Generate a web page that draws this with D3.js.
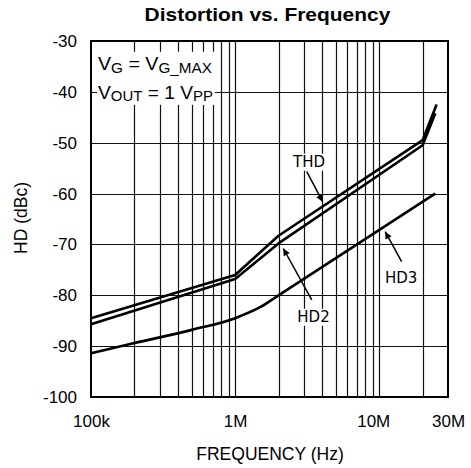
<!DOCTYPE html>
<html><head><meta charset="utf-8">
<script src="https://cdn.jsdelivr.net/npm/d3@7"></script>
<style>body{margin:0;background:#fff}svg{display:block}</style>
</head><body><svg id="c" width="471" height="468"></svg>
<script>
// ---- data ----
const freqTicks = [1e5, 1e6, 1e7, 3e7];
const freqTickLabels = ["100k", "1M", "10M", "30M"];
const dbTicks = [-30, -40, -50, -60, -70, -80, -90, -100];
const thdFreq = [1e5, 1e6, 2e6, 2e7, 2.5e7];
const thdDb = [-84.5, -76.0, -68.3, -49.5, -42.5];
const hd2Freq = [1e5, 1e6, 2e6, 2e7, 2.45e7];
const hd2Db = [-85.7, -76.8, -69.8, -50.5, -44.2];
const hd3Freq = [1e5, 2e5, 5e5, 1e6, 1.5e6, 2e6, 2.45e7];
const hd3Db = [-91.4, -89.4, -86.8, -84.5, -82.3, -80.0, -60.0];
const seriesNames = ["THD", "HD2", "HD3"];
const labelFreq = [3.26e6, 3.5e6, 1.42e7];
const labelDb = [-54.7, -85.2, -77.5];
const arrowFromFreq = [3.14e6, 3.4e6, 1.43e7];
const arrowFromDb = [-55.7, -80.9, -73.4];
const arrowToFreq = [4.05e6, 2.16e6, 1.10e7];
const arrowToDb = [-61.6, -70.8, -67.5];
const titleText = "Distortion vs. Frequency";
const xTitle = "FREQUENCY (Hz)";
const yTitle = "HD (dBc)";

// ---- chart ----
const svg = d3.select("#c");
const L = 91, R = 448, T = 41, B = 397;
const x = d3.scaleLog().domain([1e5, 3e7]).range([L, R]);
const y = d3.scaleLinear().domain([-100, -30]).range([B, T]);
const SANS = "'Liberation Sans', Arial, sans-serif";
const DJ = "'DejaVu Sans', sans-serif";
const px = v => Math.round(v) + 0.5;

// grid
const gridF = [];
[1e5, 1e6, 1e7].forEach(d => { for (let m = 1; m <= 9; m++) { const f = m * d; if (f > 1e5 && f < 3e7) gridF.push(f); } });
const grid = svg.append("g").attr("stroke", "#111").attr("stroke-width", 1.2);
grid.selectAll("line.v").data(gridF).join("line").attr("class", "v")
  .attr("x1", d => px(x(d))).attr("x2", d => px(x(d))).attr("y1", T).attr("y2", B);
grid.selectAll("line.h").data(dbTicks.slice(1, -1)).join("line").attr("class", "h")
  .attr("x1", L).attr("x2", R).attr("y1", d => px(y(d))).attr("y2", d => px(y(d)));

// curves
const line = d3.line().x(d => x(d[0])).y(d => y(d[1]));
const lineSmooth = d3.line().x(d => x(d[0])).y(d => y(d[1])).curve(d3.curveMonotoneX);
const series = [
  d3.zip(thdFreq, thdDb),
  d3.zip(hd2Freq, hd2Db),
  d3.zip(hd3Freq, hd3Db)
];
svg.append("g").selectAll("path").data(series).join("path")
  .attr("d", (d, i) => i === 2 ? lineSmooth(d) : line(d)).attr("fill", "none").attr("stroke", "#000")
  .attr("stroke-width", 2.6).attr("stroke-linejoin", "round").attr("stroke-linecap", "butt");

// legend text box (top-left)
const leg = svg.append("g");
const legBg = leg.append("rect").attr("fill", "#fff");
function subText(g, parts) {
  const t = g.append("text").attr("font-family", SANS).attr("font-size", 18).attr("fill", "#000");
  parts.forEach(p => {
    const s = t.append("tspan").text(p[0]);
    if (p[1]) s.attr("font-size", 14).attr("dy", 2.5); else s.attr("dy", p[2] || 0);
  });
  return t;
}
const l1 = subText(leg, [["V"], ["G", 1], [" = V", 0, -2.5], ["G_MAX", 1]]);
const l2 = subText(leg, [["V"], ["OUT", 1], [" = 1 V", 0, -2.5], ["PP", 1]]);
function fitText(t, x0, xEnd, base) {
  const w = t.node().getComputedTextLength();
  t.attr("x", 0).attr("y", 0).attr("transform", `translate(${x0},${base}) scale(${(xEnd - x0) / w},1)`);
}
fitText(l1, 98, 212, 70);
fitText(l2, 98, 213, 98.5);
{
  const b1 = l1.node().getBoundingClientRect(), b2 = l2.node().getBoundingClientRect();
  const x0 = Math.min(b1.left, b2.left) - 1, x1 = Math.max(b1.right, b2.right) + 2;
  const y0 = Math.min(b1.top, b2.top) - 2, y1 = Math.max(b1.bottom, b2.bottom) + 1;
  legBg.attr("x", x0).attr("y", y0).attr("width", x1 - x0).attr("height", y1 - y0);
}

// annotations
svg.append("defs").append("marker").attr("id", "ah").attr("viewBox", "0 0 10 10")
  .attr("refX", 10).attr("refY", 5).attr("markerWidth", 9).attr("markerHeight", 7)
  .attr("markerUnits", "userSpaceOnUse").attr("orient", "auto")
  .append("path").attr("d", "M0,0L10,5L0,10Z").attr("fill", "#000");
const ann = svg.append("g");
seriesNames.forEach((n, i) => {
  const g = ann.append("g");
  const bg = g.append("rect").attr("fill", "#fff");
  const t = g.append("text").attr("x", x(labelFreq[i])).attr("y", y(labelDb[i]))
    .attr("text-anchor", "middle").attr("font-family", DJ).attr("font-size", 15).attr("fill", "#000").text(n);
  const bb = t.node().getBBox();
  bg.attr("x", bb.x - 2).attr("y", bb.y + 1).attr("width", bb.width + 4).attr("height", bb.height - 1);
  g.append("line").attr("x1", x(arrowFromFreq[i])).attr("y1", y(arrowFromDb[i]))
    .attr("x2", x(arrowToFreq[i])).attr("y2", y(arrowToDb[i]))
    .attr("stroke", "#000").attr("stroke-width", 1.5).attr("marker-end", "url(#ah)");
});

// border
svg.append("rect").attr("x", L).attr("y", T).attr("width", R - L).attr("height", B - T)
  .attr("fill", "none").attr("stroke", "#000").attr("stroke-width", 2);

// axes
const xAxis = d3.axisBottom(x).tickValues(freqTicks).tickFormat((d, i) => freqTickLabels[i]).tickSize(0).tickPadding(18);
const gx = svg.append("g").attr("transform", `translate(0,${B})`).call(xAxis);
const yAxis = d3.axisLeft(y).tickValues(dbTicks).tickFormat(d3.format("d")).tickSize(0).tickPadding(14);
const gy = svg.append("g").attr("transform", `translate(${L},0)`).call(yAxis);
[gx, gy].forEach(g => {
  g.select(".domain").remove();
  g.selectAll("text").attr("font-family", SANS).attr("font-size", 17).attr("fill", "#000");
});
gy.selectAll("text").text(d => String(d).replace("\u2212", "-"));
gx.selectAll("text").attr("dx", d => d === 1e7 ? -6 : 0);

// titles
const tt = svg.append("text").attr("font-family", SANS).attr("font-weight", "bold").attr("font-size", 18.5)
  .attr("text-anchor", "middle").text(titleText);
{
  const w = tt.node().getComputedTextLength();
  tt.attr("transform", `translate(267.5,21) scale(${246 / w},1)`);
}
svg.append("text").attr("x", 270).attr("y", 460).attr("text-anchor", "middle")
  .attr("font-family", SANS).attr("font-size", 17.5).text(xTitle);
svg.append("text").attr("transform", "translate(27,218) rotate(-90)").attr("text-anchor", "middle")
  .attr("font-family", SANS).attr("font-size", 17.5).text(yTitle);
</script></body></html>
